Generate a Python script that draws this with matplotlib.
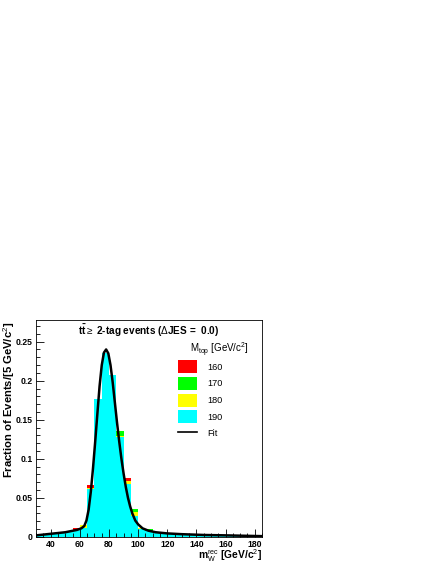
import numpy as np
import matplotlib
matplotlib.use("Agg")
import matplotlib.pyplot as plt
from matplotlib.patches import Patch
from matplotlib.lines import Line2D
from matplotlib.ticker import MultipleLocator

plt.rcParams['font.family'] = ['Liberation Sans', 'DejaVu Sans']
plt.rcParams['mathtext.fontset'] = 'custom'
plt.rcParams['mathtext.rm'] = 'Liberation Sans'
plt.rcParams['mathtext.it'] = 'Liberation Sans'
plt.rcParams['mathtext.bf'] = 'Liberation Sans:bold'

# ============================================================
# DADOS
# ============================================================

bordas = np.arange(30, 190, 5)   # 31 bins de 5 GeV

h160 = [0.002, 0.003, 0.005, 0.005, 0.006, 0.011, 0.013, 0.066, 0.176, 0.236,
        0.207, 0.130, 0.076, 0.030, 0.011, 0.008, 0.006, 0.005, 0.004, 0.004,
        0.003, 0.003, 0.003, 0.002, 0.002, 0.002, 0.002, 0.001, 0.001, 0.001, 0.001]
h170 = [0.002, 0.003, 0.004, 0.005, 0.006, 0.009, 0.013, 0.062, 0.176, 0.236,
        0.207, 0.135, 0.070, 0.036, 0.011, 0.010, 0.006, 0.005, 0.004, 0.004,
        0.003, 0.003, 0.003, 0.002, 0.002, 0.002, 0.002, 0.001, 0.001, 0.001, 0.001]
h180 = [0.002, 0.003, 0.004, 0.005, 0.006, 0.009, 0.015, 0.063, 0.176, 0.236,
        0.207, 0.129, 0.072, 0.032, 0.011, 0.008, 0.006, 0.005, 0.005, 0.004,
        0.003, 0.003, 0.003, 0.002, 0.002, 0.002, 0.002, 0.001, 0.001, 0.001, 0.001]
h190 = [0.002, 0.003, 0.004, 0.005, 0.006, 0.009, 0.012, 0.061, 0.176, 0.236,
        0.207, 0.128, 0.068, 0.027, 0.010, 0.008, 0.006, 0.005, 0.004, 0.004,
        0.003, 0.003, 0.003, 0.002, 0.002, 0.002, 0.002, 0.001, 0.001, 0.001, 0.001]

fit_x = [30, 40, 50, 58, 61, 63, 64.5, 66, 67.5, 69, 70.5, 72, 73.5, 75, 76.5,
         78, 79.5, 81, 82.5, 84, 85.5, 87, 88.5, 90, 91.5, 93, 94.5, 96, 98,
         100, 103, 107, 112, 120, 130, 145, 160, 185]
fit_y = [0.002, 0.004, 0.006, 0.009, 0.011, 0.014, 0.021, 0.035, 0.058, 0.088,
         0.122, 0.158, 0.193, 0.220, 0.236, 0.240, 0.235, 0.220, 0.198, 0.172,
         0.146, 0.122, 0.100, 0.081, 0.064, 0.050, 0.039, 0.030, 0.021,
         0.016, 0.011, 0.008, 0.006, 0.0045, 0.0035, 0.0025, 0.002, 0.001]

rotulos = ["160", "170", "180", "190"]
cores = ["#ff0000", "#00ff00", "#ffff00", "#00ffff"]

# ============================================================
# FIGURA
# ============================================================

fig = plt.figure(figsize=(4.36, 5.64), dpi=100)
ax = fig.add_axes([0.083, 0.048, 0.518, 0.385])

for h, c in zip([h160, h170, h180, h190], cores):
    ax.stairs(h, bordas, fill=True, color=c, linewidth=0)

ax.plot(fit_x, fit_y, color="black", linewidth=1.8)

ax.set_xlim(30, 185)
ax.set_ylim(0, 0.278)

ax.xaxis.set_major_locator(MultipleLocator(20))
ax.xaxis.set_minor_locator(MultipleLocator(5))
ax.yaxis.set_major_locator(MultipleLocator(0.05))
ax.yaxis.set_minor_locator(MultipleLocator(0.01))
ax.tick_params(which="both", direction="in", top=False, right=False,
               labelsize=6.2)
ax.tick_params(axis="y", pad=2.5)
ax.tick_params(axis="x", pad=2.5)
ax.tick_params(which="major", length=6, width=0.6)
ax.tick_params(which="minor", length=3, width=0.6)
ax.yaxis.set_major_formatter(plt.FuncFormatter(lambda v, p: "0" if v == 0 else f"{v:g}"))
for lab in ax.get_xticklabels() + ax.get_yticklabels():
    lab.set_fontweight("bold")
for s in ax.spines.values():
    s.set_linewidth(0.6)

ax.set_ylabel("Fraction of Events/[5 GeV/c$^{2}$]", fontsize=8.1,
              fontweight="bold")
ax.yaxis.set_label_coords(-0.118, 0.99)
ax.yaxis.label.set_horizontalalignment("right")
ax.yaxis.label.set_verticalalignment("center")
ax.set_xlabel(r"m$_{\mathrm{W}}^{\mathrm{rec}}$ [GeV/c$^{2}$]", fontsize=7.4,
              fontweight="bold")
ax.xaxis.set_label_coords(1.0, -0.088)
ax.xaxis.label.set_horizontalalignment("right")
ax.xaxis.label.set_verticalalignment("center")

ax.text(0.5, 0.95, r"$\mathbf{t\bar{t}}$$\geq$ 2-tag events ($\Delta$JES =  0.0)",
        transform=ax.transAxes, ha="center", va="center", fontsize=7.2,
        fontweight="bold")

# legenda: titulo separado para bater com o alinhamento do original
ax.text(0.681, 0.862, r"M$_{\mathrm{top}}$ [GeV/c$^{2}$]", transform=ax.transAxes,
        ha="left", va="center", fontsize=7)

handles = [Patch(facecolor=c, edgecolor="none") for c in cores]
handles.append(Line2D([], [], color="black", linewidth=1.2))
leg = ax.legend(handles, rotulos + ["Fit"],
                loc="upper left", bbox_to_anchor=(0.628, 0.813), frameon=False,
                borderpad=0, borderaxespad=0,
                fontsize=6.6, handlelength=2.07,
                handleheight=1.8, labelspacing=0.4, handletextpad=1.1)

fig.savefig("out.png", dpi=100)
